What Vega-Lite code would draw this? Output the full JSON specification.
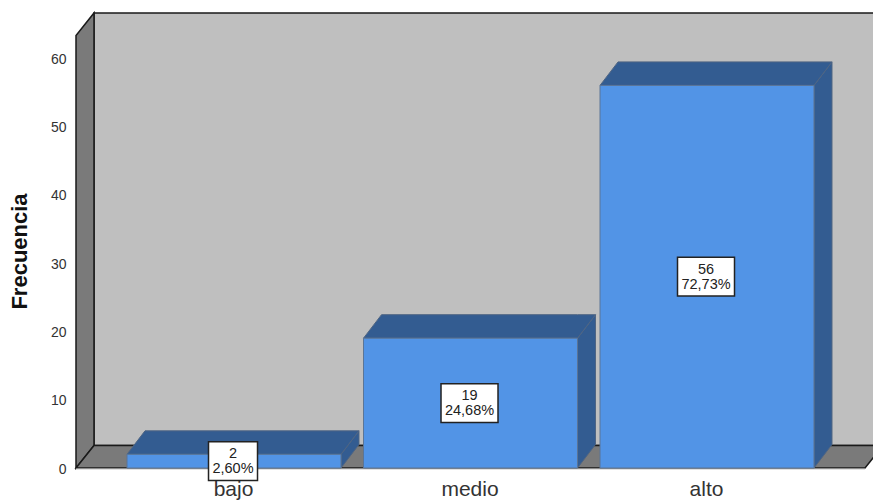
{"$schema":"https://vega.github.io/schema/vega-lite/v6.json","width":797,"height":455,"autosize":{"type":"none"},"padding":{"left":76,"top":13,"right":0,"bottom":32},"background":"white","config":{"view":{"stroke":null},"text":{"font":"Liberation Sans"}},"datasets":{"barras":[{"categoria":"bajo","indice":1,"frecuencia":2,"porcentaje":"2,60%"},{"categoria":"medio","indice":2,"frecuencia":19,"porcentaje":"24,68%"},{"categoria":"alto","indice":3,"frecuencia":56,"porcentaje":"72,73%"}],"paredes":[{"cara":"fondo","x":0.408,"y":3.3,"y2":66.6},{"cara":"fondo","x":3.71,"y":3.3,"y2":66.6},{"cara":"izquierda","x":0.3319,"y":0,"y2":63.3},{"cara":"izquierda","x":0.408,"y":3.3,"y2":66.6},{"cara":"suelo","x":0.3319,"y":0,"y2":0},{"cara":"suelo","x":0.408,"y":0,"y2":3.3},{"cara":"suelo","x":3.668,"y":0,"y2":3.3},{"cara":"suelo","x":3.744,"y":3.3,"y2":3.3}]},"encoding":{"x":{"field":"x","type":"quantitative","scale":{"domain":[0.3319,3.7019],"nice":false,"zero":false},"axis":{"title":null,"values":[1,2,3],"labelExpr":"datum.value==1?'bajo':datum.value==2?'medio':'alto'","grid":false,"ticks":false,"domain":false,"labelFont":"Liberation Sans","labelFontSize":21,"labelColor":"#333333","labelPadding":10,"labelOffset":-1,"labelFlush":false,"labelOverlap":false}},"y":{"field":"y","type":"quantitative","stack":null,"scale":{"domain":[0,66.6],"nice":false},"axis":{"title":"Frecuencia","values":[0,10,20,30,40,50,60],"grid":false,"ticks":false,"domain":false,"labelFont":"Liberation Sans","labelFontSize":14,"labelColor":"#333333","labelPadding":10,"labelOffset":1,"titleFont":"Liberation Sans","titleFontSize":22,"titleFontWeight":"bold","titleColor":"#111111","titleX":-45,"titleY":238}}},"layer":[{"data":{"name":"paredes"},"mark":{"type":"area","stroke":"#1a1a1a","strokeWidth":1.5,"opacity":1},"encoding":{"y2":{"field":"y2"},"detail":{"field":"cara"},"color":{"field":"cara","type":"nominal","legend":null,"scale":{"domain":["fondo","izquierda","suelo"],"range":["#BFBFBF","#7A7A7A","#7A7A7A"]}}}},{"data":{"values":[{"x":0.3319,"x2":3.668,"y":0}]},"mark":{"type":"rule","color":"#c4c4c4","strokeWidth":1,"yOffset":1},"encoding":{"x2":{"field":"x2"}}},{"data":{"name":"barras"},"transform":[{"calculate":"[0,1]","as":"t"},{"flatten":["t"]},{"calculate":"datum.indice+0.4524+0.0761*datum.t","as":"x"},{"calculate":"datum.frecuencia+3.44*datum.t","as":"y"},{"calculate":"3.44*datum.t","as":"y2"}],"mark":{"type":"area","color":"#335C91","stroke":"#4F6583","strokeWidth":1,"opacity":1},"encoding":{"y2":{"field":"y2"},"detail":{"field":"categoria"}}},{"data":{"name":"barras"},"transform":[{"calculate":"[0,1,2,3]","as":"t"},{"flatten":["t"]},{"calculate":"datum.indice-0.4524+[0,0.0761,0.9048,0.9809][datum.t]","as":"x"},{"calculate":"datum.frecuencia+[0,0,0,3.44][datum.t]","as":"y"},{"calculate":"datum.frecuencia+[0,3.44,3.44,3.44][datum.t]","as":"y2"}],"mark":{"type":"area","color":"#335C91","stroke":"#4F6583","strokeWidth":1,"opacity":1},"encoding":{"y2":{"field":"y2"},"detail":{"field":"categoria"}}},{"data":{"name":"barras"},"transform":[{"calculate":"datum.indice-0.4524","as":"x"},{"calculate":"datum.indice+0.4524","as":"x2"},{"calculate":"datum.frecuencia","as":"y"},{"calculate":"0","as":"y2"}],"mark":{"type":"rect","color":"#5294E6","stroke":"#5B7596","strokeWidth":1},"encoding":{"x2":{"field":"x2"},"y2":{"field":"y2"}}},{"data":{"name":"barras"},"transform":[{"calculate":"length(datum.porcentaje)==5?0.1036:0.1205","as":"h"},{"calculate":"datum.indice-0.0042-datum.h","as":"x"},{"calculate":"datum.indice-0.0042+datum.h","as":"x2"},{"calculate":"datum.frecuencia/2+2.83","as":"y"},{"calculate":"datum.frecuencia/2-2.83","as":"y2"}],"mark":{"type":"rect","color":"white","stroke":"#222222","strokeWidth":1.5},"encoding":{"x2":{"field":"x2"},"y2":{"field":"y2"}}},{"data":{"name":"barras"},"transform":[{"calculate":"datum.indice-0.0042","as":"x"},{"calculate":"datum.frecuencia/2","as":"y"}],"mark":{"type":"text","fontSize":14.5,"color":"#222222","baseline":"middle","dy":-7},"encoding":{"text":{"field":"frecuencia","type":"quantitative"}}},{"data":{"name":"barras"},"transform":[{"calculate":"datum.indice-0.0042","as":"x"},{"calculate":"datum.frecuencia/2","as":"y"}],"mark":{"type":"text","fontSize":14.5,"color":"#222222","baseline":"middle","dy":8},"encoding":{"text":{"field":"porcentaje"}}}]}
